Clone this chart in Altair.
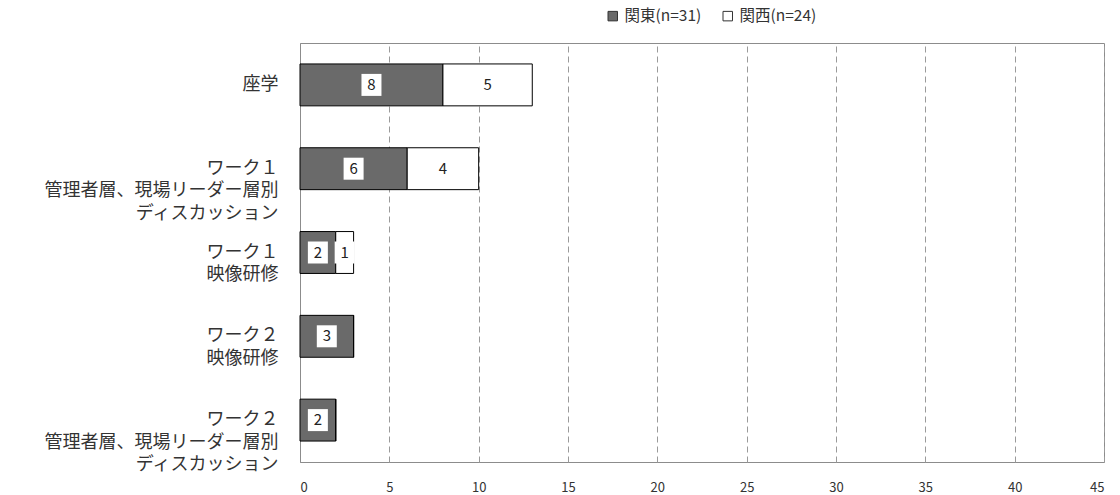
import altair as alt
import pandas as pd

# Training programme categories (top to bottom) and counts per region
categories = [
    "座学",
    "ワーク１\n管理者層、現場リーダー層別\nディスカッション",
    "ワーク１\n映像研修",
    "ワーク２\n映像研修",
    "ワーク２\n管理者層、現場リーダー層別\nディスカッション",
]
kanto = [8, 6, 2, 3, 2]
kansai = [5, 4, 1, 0, 0]
series = ["関東(n=31)", "関西(n=24)"]
x_ticks = [0, 5, 10, 15, 20, 25, 30, 35, 40, 45]

rows = []
for cat, a, b in zip(categories, kanto, kansai):
    rows.append({"cat": cat, "series": series[0], "value": a, "start": 0, "end": a})
    rows.append({"cat": cat, "series": series[1], "value": b, "start": a, "end": a + b})
df = pd.DataFrame(rows)
df["mid"] = (df["start"] + df["end"]) / 2
labels = df[df["value"] > 0]

FONT = "Noto Sans CJK JP"

y_enc = alt.Y(
    "cat:N",
    sort=categories,
    scale=alt.Scale(paddingInner=0.5, paddingOuter=0.25),
    axis=alt.Axis(
        title=None,
        labelExpr="split(datum.label, '\\n')",
        labelFontSize=18,
        labelLineHeight=22.5,
        labelColor="#333333",
        labelPadding=22,
        ticks=False,
        domainColor="#8c8c8c",
        labelFont=FONT,
        labelLimit=400,
    ),
)
x_scale = alt.Scale(domain=[0, 45], nice=False)

bars = alt.Chart(df).mark_bar(stroke="black", strokeWidth=1).encode(
    y=y_enc,
    x=alt.X(
        "start:Q",
        scale=x_scale,
        axis=alt.Axis(
            values=x_ticks,
            title=None,
            grid=True,
            gridDash=[6, 4],
            gridColor="#9a9a9a",
            ticks=False,
            domain=False,
            labelFontSize=13,
            labelColor="#333333",
            labelPadding=19,
            labelFont=FONT,
        ),
    ),
    x2="end:Q",
    fill=alt.Fill(
        "series:N",
        scale=alt.Scale(domain=series, range=["#6a6a6a", "#ffffff"]),
        legend=alt.Legend(
            title=None,
            orient="none",
            legendX=305,
            legendY=-35,
            direction="horizontal",
            symbolType="square",
            symbolSize=90,
            symbolStrokeColor="#333333",
            symbolStrokeWidth=1,
            labelFontSize=15.5,
            labelColor="#333333",
            labelFont=FONT,
            labelOffset=4,
            columnPadding=18,
        ),
    ),
)

boxes = alt.Chart(labels).mark_point(
    shape="M-1,-1.1L1,-1.1L1,1.1L-1,1.1Z",
    filled=True,
    fill="white",
    opacity=1,
    size=400,
    strokeWidth=0,
).encode(y=alt.Y("cat:N", sort=categories), x=alt.X("mid:Q", scale=x_scale))

texts = alt.Chart(labels).mark_text(fontSize=15, color="#222222", font=FONT).encode(
    y=alt.Y("cat:N", sort=categories),
    x=alt.X("mid:Q", scale=x_scale),
    text="value:Q",
)

chart = (
    alt.layer(bars, boxes, texts)
    .properties(
        width=804,
        height=419,
        autosize=alt.AutoSizeParams(type="none"),
        padding={"left": 300, "top": 43, "right": 16, "bottom": 33},
        background="white",
    )
    .configure_view(stroke="#8c8c8c", strokeWidth=1)
)

chart.save("out.html", embed_options={"renderer": "svg", "actions": False})
